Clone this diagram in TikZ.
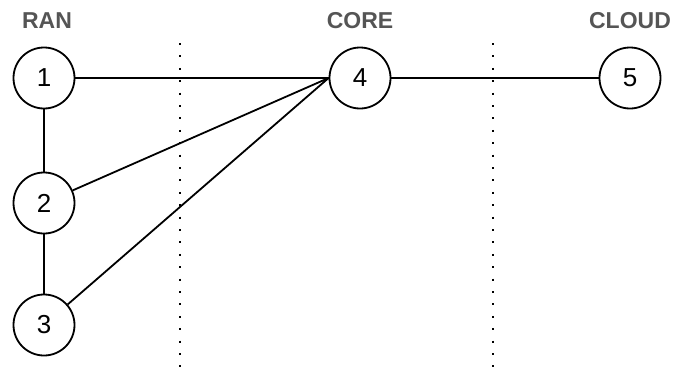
\documentclass[tikz,border=0pt]{standalone}
\usepackage{fontspec}
\setmainfont{Liberation Sans}
\definecolor{zonegray}{HTML}{555555}
\begin{document}
\begin{tikzpicture}[x=1pt, y=-1pt,
  site/.style={draw, circle, line width=1.8pt, minimum size=61pt, inner sep=0pt, font=\fontsize{26}{28}\selectfont},
  zone/.style={font=\fontsize{23}{25}\selectfont\bfseries, text=zonegray},
  sep/.style={line width=2.2pt, dash pattern=on 2pt off 10.4pt}]
  \useasboundingbox (0,0) rectangle (675,367);
  \foreach \n/\x/\y in {1/44/78, 2/44/203, 3/44/325, 4/360/78, 5/630/78} {
    \node[site] (n\n) at (\x,\y) {\n};
  }
  \foreach \l/\t/\x in {ran/RAN/47, core/CORE/360, cloud/CLOUD/630} {
    \node[zone] (\l) at (\x,21) {\t};
  }
  % borders between the zones
  \coordinate (s1a) at (180,43); \coordinate (s1b) at (180,367);
  \coordinate (s2a) at (493,43); \coordinate (s2b) at (493,367);
  \draw[sep] (s1a) -- (s1b);
  \draw[sep] (s2a) -- (s2b);
  \draw[line width=1.8pt] (n1) -- (n2) -- (n3);
  \foreach \i in {1,2,3} {
    \draw[line width=1.8pt] (n\i) -- (n4.west);
  }
  \draw[line width=1.8pt] (n4) -- (n5);
\end{tikzpicture}
\end{document}
